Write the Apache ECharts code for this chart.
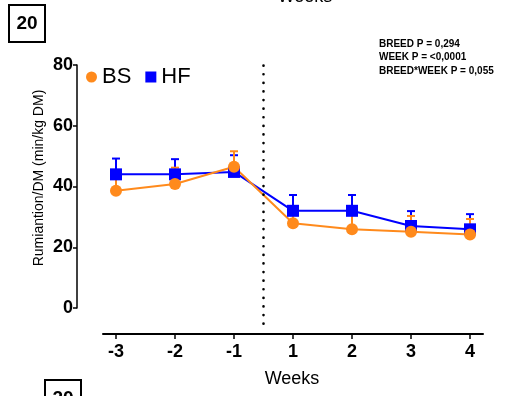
<!DOCTYPE html>
<html>
<head>
<meta charset="utf-8">
<script src="https://cdn.jsdelivr.net/npm/echarts@6/dist/echarts.min.js"></script>
<style>html,body{margin:0;padding:0;background:#fff;}#c{width:508px;height:396px;}</style>
</head>
<body>
<div id="c"></div>
<script>
var weekLabels = ['-3', '-2', '-1', '1', '2', '3', '4'];
var bsMean = [38.6, 40.8, 46.5, 27.9, 25.9, 25.1, 24.2];
var bsUpper = [44.0, 46.2, 51.6, 33.0, 31.1, 30.3, 29.3];
var hfMean = [44.0, 44.0, 44.8, 32.0, 32.0, 27.0, 25.9];
var hfUpper = [49.2, 49.0, 50.3, 37.2, 37.2, 31.9, 30.9];
var yTicks = [0, 20, 40, 60, 80];
var statLines = ['BREED P = 0,294', 'WEEK P = <0,0001', "BREED*WEEK P = 0,055"];
var dividerAt = 2.5;

var ORANGE = '#FF8A1C', BLUE = '#0000FF';
var FONT = 'Liberation Sans, Arial, sans-serif';

function pts(arr) { return arr.map(function (v, i) { return [i, v]; }); }
function errData(mean, upper) { return mean.map(function (v, i) { return [i, v, upper[i]]; }); }
function errSeries(mean, upper, color) {
  return {
    type: 'custom', xAxisIndex: 0, yAxisIndex: 0, silent: true,
    data: errData(mean, upper),
    renderItem: function (params, api) {
      var p0 = api.coord([api.value(0), api.value(1)]);
      var p1 = api.coord([api.value(0), api.value(2)]);
      var hw = 4;
      return {
        type: 'group',
        children: [
          { type: 'line', shape: { x1: p0[0], y1: p0[1], x2: p1[0], y2: p1[1] }, style: { stroke: color, lineWidth: 2 } },
          { type: 'line', shape: { x1: p1[0] - hw, y1: p1[1], x2: p1[0] + hw, y2: p1[1] }, style: { stroke: color, lineWidth: 2 } }
        ]
      };
    }
  };
}

var chart = echarts.init(document.getElementById('c'), null, { renderer: 'canvas' });
chart.setOption({
  animation: false,
  backgroundColor: '#fff',
  textStyle: { fontFamily: FONT },
  grid: [
    { left: 103, right: 25, top: 65, bottom: 62 },
    { left: 77, width: 1, top: 65, bottom: 88 }
  ],
  legend: {
    left: 86, top: 66, padding: 0, itemWidth: 11, itemHeight: 11, itemGap: 14,
    textStyle: { fontSize: 22, color: '#000', fontFamily: FONT },
    data: [{ name: 'BS', icon: 'circle' }, { name: 'HF', icon: 'rect' }]
  },
  xAxis: [
    {
      type: 'value', gridIndex: 0, min: -0.22, max: 6.22,
      axisLine: { show: true, onZero: false, lineStyle: { color: '#000', width: 2 } },
      axisTick: { show: true, customValues: [0, 1, 2, 3, 4, 5, 6], length: 5, lineStyle: { color: '#000', width: 1.5 } },
      axisLabel: {
        customValues: [0, 1, 2, 3, 4, 5, 6],
        formatter: function (v) { return weekLabels[Math.round(v)]; },
        fontSize: 18, fontWeight: 'bold', color: '#000', margin: 9
      },
      splitLine: { show: false }
    },
    { type: 'value', gridIndex: 1, show: false }
  ],
  yAxis: [
    { type: 'value', gridIndex: 0, min: -8.56, max: 80, show: false, splitLine: { show: false } },
    {
      type: 'value', gridIndex: 1, min: 0, max: 80, interval: 20, position: 'left',
      axisLine: { show: true, onZero: false, lineStyle: { color: '#000', width: 1.5 } },
      axisTick: { show: true, length: 4, lineStyle: { color: '#000', width: 1.5 } },
      axisLabel: {
        formatter: function (v) { return yTicks.indexOf(v) >= 0 ? String(v) : ''; },
        fontSize: 18, fontWeight: 'bold', color: '#000', margin: 4
      },
      splitLine: { show: false }
    }
  ],
  series: [
    errSeries(hfMean, hfUpper, BLUE),
    {
      name: 'HF', type: 'line', xAxisIndex: 0, yAxisIndex: 0, data: pts(hfMean),
      symbol: 'rect', symbolSize: 12, itemStyle: { color: BLUE },
      lineStyle: { color: BLUE, width: 2 },
      markLine: {
        silent: true, symbol: 'none', label: { show: false },
        lineStyle: { color: '#000', type: [0.1, 8.5], width: 2.6, cap: 'round' },
        data: [[{ coord: [dividerAt, 79.8] }, { coord: [dividerAt, -7.4] }]]
      }
    },
    errSeries(bsMean, bsUpper, ORANGE),
    {
      name: 'BS', type: 'line', xAxisIndex: 0, yAxisIndex: 0, data: pts(bsMean),
      symbol: 'circle', symbolSize: 12, itemStyle: { color: ORANGE },
      lineStyle: { color: ORANGE, width: 2 }
    }
  ],
  graphic: [
    { type: 'rect', shape: { x: 9, y: 5, width: 36, height: 37 }, style: { fill: '#fff', stroke: '#000', lineWidth: 2 } },
    { type: 'text', x: 27, y: 24, style: { text: '20', font: 'bold 19px ' + FONT, fill: '#000', textAlign: 'center', textVerticalAlign: 'middle' } },
    { type: 'rect', shape: { x: 45, y: 380, width: 36, height: 37 }, style: { fill: '#fff', stroke: '#000', lineWidth: 2 } },
    { type: 'text', x: 63, y: 399, style: { text: '20', font: 'bold 19px ' + FONT, fill: '#000', textAlign: 'center', textVerticalAlign: 'middle' } },
    { type: 'text', x: 305, y: -3, style: { text: 'Weeks', font: '18px ' + FONT, fill: '#000', textAlign: 'center', textVerticalAlign: 'middle' } },
    { type: 'text', x: 292, y: 379, style: { text: 'Weeks', font: '18px ' + FONT, fill: '#000', textAlign: 'center', textVerticalAlign: 'middle' } },
    { type: 'text', x: 39, y: 178, rotation: Math.PI / 2, style: { text: 'Rumiantion/DM (min/kg DM)', font: '14px ' + FONT, fill: '#000', textAlign: 'center', textVerticalAlign: 'middle' } },
    { type: 'text', x: 379, y: 44, style: { text: statLines[0], font: 'bold 10px ' + FONT, fill: '#000', textVerticalAlign: 'middle' } },
    { type: 'text', x: 379, y: 57.5, style: { text: statLines[1], font: 'bold 10px ' + FONT, fill: '#000', textVerticalAlign: 'middle' } },
    { type: 'text', x: 379, y: 71, style: { text: statLines[2], font: 'bold 10px ' + FONT, fill: '#000', textVerticalAlign: 'middle' } }
  ]
});
</script>
</body>
</html>
